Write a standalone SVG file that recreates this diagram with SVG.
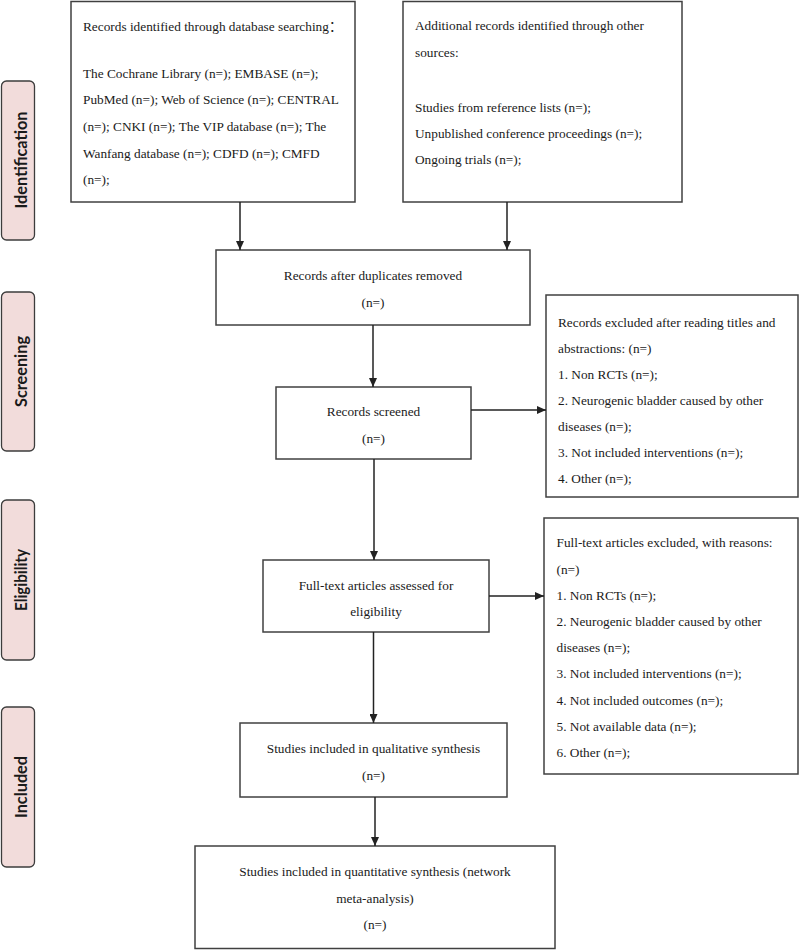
<svg xmlns="http://www.w3.org/2000/svg" width="800" height="950" viewBox="0 0 800 950">
<style>
.box{fill:#fff;stroke:#404040;stroke-width:1.5}
.t{font-family:"Liberation Serif","Times New Roman","Noto Sans CJK SC",serif;font-size:13.3px;fill:#1a1a1a}
.c{text-anchor:middle}
.lab rect{fill:#f2dcdb;stroke:#3c3c3c;stroke-width:1.3}
.lab text{font-family:Lato,"Liberation Sans",sans-serif;font-weight:bold;font-size:17px;fill:#1a1a1a;text-anchor:middle}
.conn path{fill:none;stroke:#222;stroke-width:1.5;marker-end:url(#arr)}
</style>
<defs>
<marker id="arr" markerUnits="userSpaceOnUse" markerWidth="9" markerHeight="8" refX="9" refY="4" orient="auto">
<path d="M0,0 L9,4 L0,8 z" fill="#222"/>
</marker>
</defs>
<rect width="800" height="950" fill="#fff"/>

<g id="lab-identification" class="lab">
<rect x="1.5" y="81" width="33" height="159" rx="5"/>
<text transform="translate(27,160) rotate(-90)" textLength="97" lengthAdjust="spacingAndGlyphs">Identification</text>
</g>
<g id="lab-screening" class="lab">
<rect x="1.5" y="292" width="33" height="159" rx="5"/>
<text transform="translate(27,371.5) rotate(-90)" textLength="71" lengthAdjust="spacingAndGlyphs">Screening</text>
</g>
<g id="lab-eligibility" class="lab">
<rect x="1.5" y="500" width="33" height="160" rx="5"/>
<text transform="translate(27,580) rotate(-90)" textLength="62" lengthAdjust="spacingAndGlyphs">Eligibility</text>
</g>
<g id="lab-included" class="lab">
<rect x="1.5" y="707" width="33" height="160" rx="5"/>
<text transform="translate(27,787) rotate(-90)" textLength="62" lengthAdjust="spacingAndGlyphs">Included</text>
</g>

<g id="n-database">
<rect class="box" x="71" y="1.5" width="284" height="200.5"/>
<text class="t" x="83" y="30.5">Records identified through database searching：</text>
<text class="t" x="83" y="77.5">The Cochrane Library (n=); EMBASE (n=);</text>
<text class="t" x="83" y="104.3">PubMed (n=); Web of Science (n=); CENTRAL</text>
<text class="t" x="83" y="131">(n=); CNKI (n=); The VIP database (n=); The</text>
<text class="t" x="83" y="157.7">Wanfang database (n=); CDFD (n=); CMFD</text>
<text class="t" x="83" y="183.5">(n=);</text>
</g>

<g id="n-other">
<rect class="box" x="403" y="1.5" width="279" height="200.5"/>
<text class="t" x="415" y="30">Additional records identified through other</text>
<text class="t" x="415" y="56.5">sources:</text>
<text class="t" x="415" y="111.5">Studies from reference lists (n=);</text>
<text class="t" x="415" y="137.5">Unpublished conference proceedings (n=);</text>
<text class="t" x="415" y="163.5">Ongoing trials (n=);</text>
</g>

<g id="n-dedup">
<rect class="box" x="216" y="250" width="314" height="75"/>
<text class="t c" x="373" y="279.5">Records after duplicates removed</text>
<text class="t c" x="373" y="306.5">(n=)</text>
</g>

<g id="n-screened">
<rect class="box" x="276" y="387" width="195" height="72"/>
<text class="t c" x="373.5" y="416">Records screened</text>
<text class="t c" x="373.5" y="442.5">(n=)</text>
</g>

<g id="n-excl1">
<rect class="box" x="546" y="295" width="252" height="202"/>
<text class="t" x="558" y="327">Records excluded after reading titles and</text>
<text class="t" x="558" y="353">abstractions: (n=)</text>
<text class="t" x="558" y="379">1. Non RCTs (n=);</text>
<text class="t" x="558" y="405">2. Neurogenic bladder caused by other</text>
<text class="t" x="558" y="431.3">diseases (n=);</text>
<text class="t" x="558" y="457.3">3. Not included interventions (n=);</text>
<text class="t" x="558" y="483.3">4. Other (n=);</text>
</g>

<g id="n-fulltext">
<rect class="box" x="263" y="560" width="226" height="72"/>
<text class="t c" x="376" y="590">Full-text articles assessed for</text>
<text class="t c" x="376" y="616">eligibility</text>
</g>

<g id="n-excl2">
<rect class="box" x="544" y="518" width="254" height="256"/>
<text class="t" x="556.5" y="547.3">Full-text articles excluded, with reasons:</text>
<text class="t" x="556.5" y="573.5">(n=)</text>
<text class="t" x="556.5" y="599.8">1. Non RCTs (n=);</text>
<text class="t" x="556.5" y="626">2. Neurogenic bladder caused by other</text>
<text class="t" x="556.5" y="652.2">diseases (n=);</text>
<text class="t" x="556.5" y="678.4">3. Not included interventions (n=);</text>
<text class="t" x="556.5" y="704.5">4. Not included outcomes (n=);</text>
<text class="t" x="556.5" y="730.7">5. Not available data (n=);</text>
<text class="t" x="556.5" y="756.8">6. Other (n=);</text>
</g>

<g id="n-qual">
<rect class="box" x="240" y="723" width="267" height="74"/>
<text class="t c" x="373.5" y="753">Studies included in qualitative synthesis</text>
<text class="t c" x="373.5" y="779.5">(n=)</text>
</g>

<g id="n-quant">
<rect class="box" x="195" y="846" width="360" height="102.5"/>
<text class="t c" x="375" y="876">Studies included in quantitative synthesis (network</text>
<text class="t c" x="375" y="902.7">meta-analysis)</text>
<text class="t c" x="375" y="928.5">(n=)</text>
</g>

<g id="connectors" class="conn">
<path d="M240,202 V250"/>
<path d="M507,202 V250"/>
<path d="M373,325 V387"/>
<path d="M374,459 V560"/>
<path d="M373.5,632 V723"/>
<path d="M375,797 V846"/>
<path d="M471,410 H546"/>
<path d="M489,596 H544"/>
</g>
</svg>
